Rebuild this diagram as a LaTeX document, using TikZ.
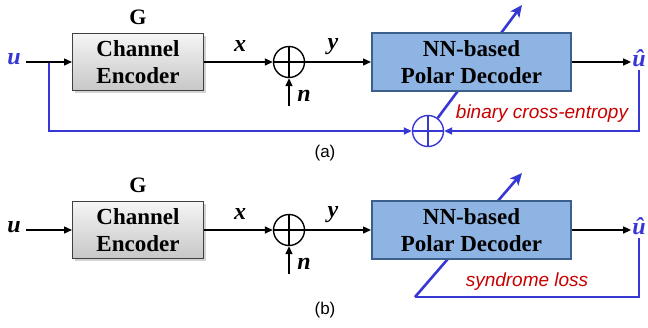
\documentclass[tikz,border=0pt]{standalone}
\usepackage{fontspec}
\setmainfont{Liberation Serif}
\setsansfont{Liberation Sans}
\usetikzlibrary{arrows.meta,shadows}
\definecolor{myblue}{RGB}{55,55,212}
\definecolor{myred}{RGB}{200,0,0}
\definecolor{decfill}{RGB}{142,180,227}
\definecolor{decdraw}{RGB}{60,96,140}
\begin{document}
\begin{tikzpicture}[x=1pt,y=-1pt,
  bline/.style={line width=1.4pt,black},
  blueline/.style={line width=1.8pt,myblue},
  diagline/.style={line width=2.6pt,myblue,-{Stealth[length=12pt,width=11pt,inset=3pt]}},
  arr/.style={-{Triangle[length=8pt,width=7pt]}},
  encbox/.style={rectangle,draw=black!75,line width=1pt,top color=white!96!black,bottom color=black!22,
    minimum width=131pt,minimum height=57pt,inner sep=0pt,align=center,
    font=\bfseries\fontsize{23}{27}\selectfont,
    drop shadow={opacity=0.35,shadow xshift=2pt,shadow yshift=-2pt}},
  decbox/.style={rectangle,draw=decdraw,line width=2pt,fill=decfill,
    minimum width=199pt,minimum height=58pt,inner sep=0pt,align=center,
    font=\bfseries\fontsize{23}{27}\selectfont},
  sumnode/.style={circle,draw=#1,line width=1.4pt,minimum size=31pt,inner sep=0pt,
    path picture={\draw[#1,line width=1.4pt] (path picture bounding box.north) -- (path picture bounding box.south)
      (path picture bounding box.west) -- (path picture bounding box.east);}},
  mtxt/.style={font=\bfseries\itshape\fontsize{24}{24}\selectfont,inner sep=1pt},
  gtxt/.style={font=\bfseries\fontsize{22}{22}\selectfont,inner sep=0pt},
  losstxt/.style={font=\sffamily\itshape\fontsize{19}{19}\selectfont,text=myred,inner sep=0pt},
  captxt/.style={font=\sffamily\fontsize{17}{17}\selectfont,inner sep=0pt}
]
\useasboundingbox (0,0) rectangle (648,327);

% ---------------- panel (a)
\node[gtxt] (G1) at (138,17) {G};
\node[encbox] (enc1) at (138,62) {Channel\\Encoder};
\node[mtxt,text=myblue] (u1) at (14,59) {u};
\coordinate (u1s) at (26,62);
\draw[bline,arr] (u1s) -- (enc1.west);
\node[sumnode=black] (sum1) at (289,62) {};
\draw[bline,arr] (enc1.east) -- (sum1.west);
\node[mtxt] (x1) at (240,46) {x};
\coordinate (n1s) at (289,106);
\draw[bline,arr] (n1s) -- (sum1.south);
\node[mtxt] (n1) at (304,96) {n};
\node[mtxt] (y1) at (333,47) {y};
\node[mtxt,text=myblue] (uh1) at (639,58) {û};
\node[sumnode=myblue] (bsum1) at (428,131) {};
\coordinate (tip1) at (522,5);
\draw[diagline] (bsum1) -- (tip1);
\node[decbox] (dec1) at (471.5,62) {NN-based\\Polar Decoder};
\draw[bline,arr] (sum1.east) -- (dec1.west);
\draw[bline,arr] (dec1.east) -- (dec1.east -| uh1.west);
\coordinate (br1) at (49,63);
\draw[blueline,arr] (br1) |- (bsum1.west);
\draw[blueline,arr] (uh1.south) ++(0,2) |- (bsum1.east);
\node[losstxt] (l1) at (542,114) {binary cross-entropy};
\node[captxt] (cap1) at (325,153) {(a)};

% ---------------- panel (b)
\node[gtxt] (G2) at (138,185) {G};
\node[encbox] (enc2) at (138,230) {Channel\\Encoder};
\node[mtxt] (u2) at (14,227) {u};
\coordinate (u2s) at (26,230);
\draw[bline,arr] (u2s) -- (enc2.west);
\node[sumnode=black] (sum2) at (289,230) {};
\draw[bline,arr] (enc2.east) -- (sum2.west);
\node[mtxt] (x2) at (240,214) {x};
\coordinate (n2s) at (289,274);
\draw[bline,arr] (n2s) -- (sum2.south);
\node[mtxt] (n2) at (304,264) {n};
\node[mtxt] (y2) at (333,215) {y};
\node[mtxt,text=myblue] (uh2) at (639,226) {û};
\coordinate (c2) at (415,297);
\coordinate (tip2) at (522,173);
\draw[blueline] (uh2.south) ++(0,2) |- (c2);
\draw[diagline] (c2) -- (tip2);
\node[decbox] (dec2) at (471.5,230) {NN-based\\Polar Decoder};
\draw[bline,arr] (sum2.east) -- (dec2.west);
\draw[bline,arr] (dec2.east) -- (dec2.east -| uh2.west);
\node[losstxt] (l2) at (527,282) {syndrome loss};
\node[captxt] (cap2) at (325,310) {(b)};
\end{tikzpicture}
\end{document}
